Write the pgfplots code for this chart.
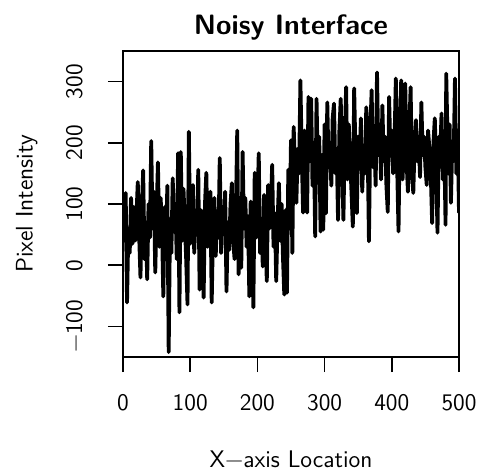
\documentclass[border=0pt]{standalone}
\usepackage{pgfplots}
\pgfplotsset{compat=1.18}

% values (x, pixel intensity)
\pgfplotstableread{
x y
1 40
2 75
4 118
6 -61
8 60
10 20
12 110
14 35
16 95
18 40
20 80
22 136
24 50
26 -20
28 90
30 155
32 10
34 70
36 -23
38 100
40 45
42 203
44 60
46 120
48 -12
50 85
52 168
54 30
56 110
58 65
60 -51
62 95
64 40
66 130
68 -142
70 75
72 20
74 142
76 55
78 100
80 10
82 183
84 -77
86 185
88 40
90 125
92 70
94 10
96 -64
98 218
100 35
102 95
104 131
106 20
108 80
110 50
112 156
114 -40
116 90
118 60
120 -53
122 100
124 151
126 30
128 75
130 120
132 -61
134 60
136 110
138 15
140 85
142 45
144 175
146 20
148 95
150 55
152 120
154 -43
156 70
158 25
160 100
162 134
164 40
166 10
168 90
170 220
172 -15
174 75
176 -4
178 185
180 60
182 110
184 30
186 80
188 -51
190 104
192 40
194 -69
196 151
198 45
200 90
202 183
204 20
206 70
208 -2
210 115
212 50
214 -26
216 131
218 60
220 95
222 164
224 30
226 85
228 -26
230 70
232 134
234 40
236 100
238 15
240 -48
242 90
244 -45
246 156
248 60
250 204
252 20
254 226
256 160
258 102
260 190
262 150
264 302
266 180
268 86
270 220
272 140
274 86
276 275
278 170
280 272
282 130
284 200
286 47
288 272
290 150
292 210
294 55
296 180
298 58
300 230
302 85
304 266
306 160
308 200
310 130
312 240
314 264
316 150
318 190
320 74
322 220
324 272
326 170
328 74
330 200
332 291
334 140
336 230
338 175
340 120
342 63
344 289
346 180
348 85
350 210
352 160
354 240
356 120
358 190
360 150
362 258
364 200
366 39
368 220
370 286
372 160
374 200
376 130
378 315
380 180
382 230
384 140
386 261
388 170
390 210
392 130
394 87
396 275
398 180
400 220
402 150
404 200
406 305
408 160
410 55
412 230
414 302
416 140
418 190
420 297
422 170
424 120
426 220
428 291
430 150
432 118
434 200
436 237
438 170
440 210
442 144
444 266
446 180
448 210
450 160
452 131
454 220
456 190
458 150
460 69
462 200
464 240
466 160
468 53
470 210
472 180
474 248
476 140
478 200
480 66
481 313
484 150
486 230
488 102
490 200
492 170
494 305
496 150
498 220
500 86
}\noisy

\begin{document}
\begin{tikzpicture}
\begin{axis}[
  scale only axis, width=168pt, height=153pt,
  xmin=0, xmax=500, ymin=-150, ymax=350,
  axis line style={line width=0.75pt},
  tick style={line width=0.75pt, black},
  tick align=outside, major tick length=7.5pt,
  xtick pos=left, ytick pos=left,
  xtick={0,100,200,300,400,500}, xticklabels={0,100,200,300,400,500},
  ytick={-100,0,100,200,300}, yticklabels={−100,0,100,200,300},
  every tick label/.append style={font=\fontsize{11.9}{14}\selectfont\sffamily},
  xticklabel style={anchor=north, inner sep=0pt, yshift=-11pt},
  yticklabel style={rotate=90, anchor=south, inner sep=0pt, yshift=12.5pt},
  title={Noisy Interface},
  title style={font=\fontsize{14}{17}\selectfont\sffamily\bfseries,
    at={(axis description cs:0.5,1)}, anchor=base, inner sep=0pt, yshift=2.5pt},
  xlabel={X−axis Location},
  xlabel style={font=\fontsize{12}{14}\selectfont\sffamily,
    at={(axis description cs:0.5,0)}, anchor=north, inner sep=0pt, yshift=-46.5pt},
  ylabel={Pixel Intensity},
  ylabel style={font=\fontsize{12}{14}\selectfont\sffamily,
    at={(axis description cs:0,0.5)}, anchor=south, inner sep=0pt, yshift=42.5pt},
]
\addplot[black, line width=1.9pt, line join=round, line cap=round, mark=none] table[x=x, y=y] {\noisy};
\end{axis}
\path (current axis.south west) ++(-61.5pt,-57.5pt) rectangle ++(238.5pt,236pt);
\end{tikzpicture}
\end{document}
